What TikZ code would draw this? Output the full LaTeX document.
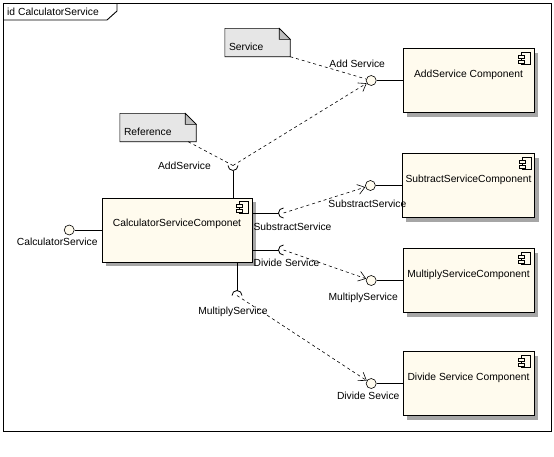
\documentclass[tikz,border=0pt]{standalone}
\usepackage{fontspec}
\setmainfont{Liberation Sans}
\usetikzlibrary{positioning}
\usetikzlibrary{calc}
\usetikzlibrary{arrows.meta}
\usetikzlibrary{shadows}
\usetikzlibrary{backgrounds}
\definecolor{compfill}{RGB}{255,251,238}
\definecolor{notefill}{RGB}{230,230,230}
\tikzset{
  comp/.style     = { rectangle, draw=black, line width=1pt, fill=compfill,
                      minimum width=131pt, minimum height=64pt, text height=7pt, text depth=14pt,
                      drop shadow={shadow xshift=4pt, shadow yshift=-4pt, fill=black!35, opacity=1} },
  lolli/.style    = { circle, draw=black, line width=0.6pt, fill=compfill, minimum size=10pt, inner sep=0pt },
  lbl/.style      = { inner sep=0pt },
  note/.style     = { rectangle, inner xsep=4pt, align=left, minimum height=28pt, text height=15pt, text depth=0pt },
  wire/.style     = { line width=0.8pt },
  dep/.style      = { line width=0.6pt, dash pattern=on 3pt off 3pt, -{Straight Barb[length=7pt,width=10pt]} },
  noteline/.style = { line width=0.6pt, dash pattern=on 3pt off 3pt },
  compicon/.pic   = {
    \draw [line width=0.6pt,fill=compfill] (-13,4) rectangle (-4,16);
    \draw [line width=0.6pt,fill=compfill] (-16,7) rectangle (-10,10);
    \draw [line width=0.6pt,fill=compfill] (-16,12) rectangle (-10,15);
  },
}
\begin{document}
\begin{tikzpicture}[x=1pt,y=-1pt,font=\fontsize{10.3}{12}\selectfont]
  \useasboundingbox (0,0) rectangle (554,456);

  % frame
  \draw [line width=0.9pt] (3,3) rectangle (551,431);
  \draw [line width=0.9pt] (3,20) -- (107,20) -- (117,11) -- (117,3);
  \node (title) [lbl,anchor=west] at (7,12) {id CalculatorService};

  % components
  \node (calc) [comp,minimum width=150pt] at (177,230)  {CalculatorServiceComponet};
  \node (addc) [comp]                     at (468.5,80.5) {AddService Component};
  \node (subc) [comp,below=40pt of addc]                 {SubtractServiceComponent};
  \node (mulc) [comp,below=30pt of subc]                 {MultiplyServiceComponent};
  \node (divc) [comp,below=38pt of mulc]                 {Divide Service Component};
  \foreach \c in {calc,addc,subc,mulc,divc}
    \pic at (\c.north east) {compicon};

  % provided interfaces
  \node (calcl) [lolli,left=27pt of calc] {};
  \node (addl)  [lolli,left=26pt of addc] {};
  \node (subl)  [lolli,left=26pt of subc] {};
  \node (mull)  [lolli,left=26pt of mulc] {};
  \node (divl)  [lolli,left=26pt of divc] {};
  \draw [wire] (calcl) -- (calc);
  \draw [wire] (addl)  -- (addc);
  \draw [wire] (subl)  -- (subc);
  \draw [wire] (mull)  -- (mulc);
  \draw [wire] (divl)  -- (divc);

  % required interfaces
  \coordinate (reqadd) at ($(calc.north)+(56,-32)$);
  \coordinate (reqsub) at ($(calc.east)+(31,-17)$);
  \coordinate (reqmul) at ($(calc.east)+(31,20)$);
  \coordinate (reqdiv) at ($(calc.south)+(60,33)$);
  \draw [wire] ([xshift=-5pt]reqadd) arc [start angle=180,end angle=360,radius=5pt];
  \draw [wire] ([yshift=-5pt]reqadd) -- (reqadd |- calc.north);
  \foreach \r in {reqsub,reqmul} {
    \draw [wire] ([yshift=5pt]\r) arc [start angle=90,end angle=270,radius=5pt];
    \draw [wire] ([xshift=-5pt]\r) -- (\r -| calc.east);
  }
  \draw [wire] ([xshift=5pt]reqdiv) arc [start angle=0,end angle=180,radius=5pt];
  \draw [wire] ([yshift=5pt]reqdiv) -- (reqdiv |- calc.south);

  % notes
  \node (svcnote) [note,text width=57pt] at (257.5,42.5) {Service};
  \node (refnote) [note,text width=68pt] at (158,127.5)  {Reference};
  \begin{scope}[on background layer]
    \foreach \n in {svcnote,refnote} {
      \draw [line width=0.6pt,fill=notefill] (\n.south west) -- (\n.north west)
        -- ([xshift=-11pt]\n.north east) -- ([yshift=-11pt]\n.north east) -- (\n.south east) -- cycle;
      \draw [line width=0.6pt,fill=black!25] ([xshift=-11pt]\n.north east)
        -- ([xshift=-11pt,yshift=-11pt]\n.north east) -- ([yshift=-11pt]\n.north east) -- cycle;
    }
  \end{scope}

  % dependencies
  \draw [dep] (reqadd) -- (addl);
  \draw [dep] (reqsub) -- (subl);
  \draw [dep] (reqmul) -- (mull);
  \draw [dep] (reqdiv) -- (divl);
  \draw [noteline] (svcnote.south east) -- (addl);
  \draw [noteline] ([xshift=-8pt]refnote.south east) -- (reqadd);

  % labels
  \node (calcname) [lbl,below=3pt of calcl,xshift=-12pt] {CalculatorService};
  \node (addname)  [lbl,above=7pt of addl,xshift=-14pt]  {Add Service};
  \node (subname)  [lbl,below=9pt of subl,xshift=-3pt]   {SubstractService};
  \node (mulname)  [lbl,below=7pt of mull,xshift=-8pt]   {MultiplyService};
  \node (divname)  [lbl,below=3pt of divl,xshift=-3pt]   {Divide Sevice};
  \node (addreq)   [lbl,left=22pt of reqadd]             {AddService};
  \node (subreq)   [lbl,below=10pt of reqsub,xshift=9pt] {SubstractService};
  \node (mulreq)   [lbl,below=9pt of reqmul,xshift=3pt]  {Divide Service};
  \node (divreq)   [lbl,below=11pt of reqdiv,xshift=-4pt] {MultiplyService};
\end{tikzpicture}
\end{document}
